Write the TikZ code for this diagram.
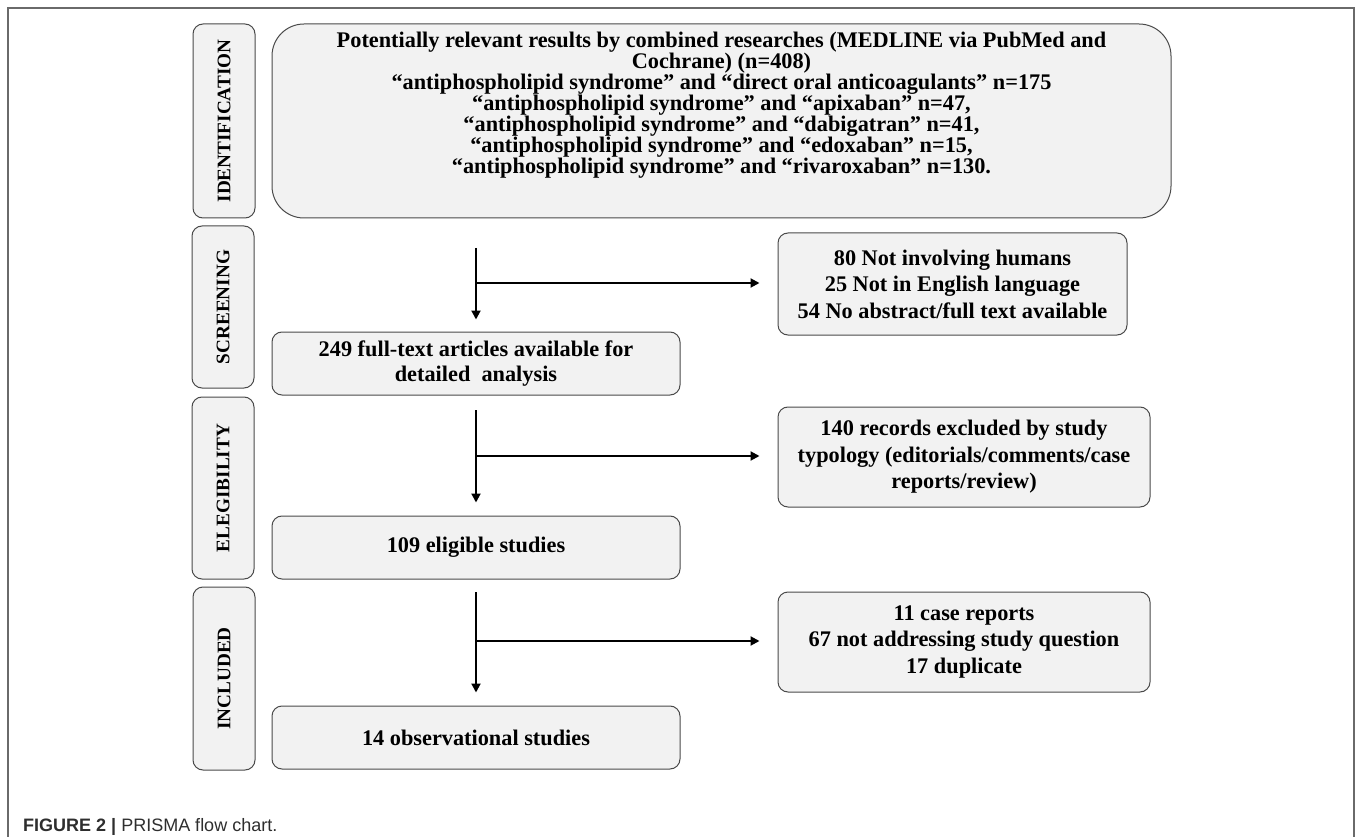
\documentclass[tikz,border=0pt]{standalone}
\usepackage{fontspec}
\setmainfont{Liberation Serif}
\newfontfamily\capfont{Liberation Sans}
\usetikzlibrary{arrows.meta}
\definecolor{boxfill}{HTML}{F2F2F2}
\definecolor{boxline}{HTML}{4A4A4A}
\definecolor{framecol}{HTML}{6A6A6A}
\definecolor{captxt}{HTML}{2E2E2E}
\begin{document}
\begin{tikzpicture}[x=1pt,y=-1pt,
  box/.style={draw=boxline, fill=boxfill, line width=1pt, rounded corners=10pt,
    inner sep=0pt, align=center, text=black, font=\bfseries\fontsize{22.3}{26.5}\selectfont},
  lbl/.style={box, rotate=90, font=\bfseries\fontsize{19.2}{21}\selectfont},
  arr/.style={line width=2pt, -{Triangle[length=9pt,width=9pt]}},
  ln/.style={line width=2pt}
]
\useasboundingbox (0,0) rectangle (1358,837);
\draw[framecol, line width=1.5pt] (8,837) -- (8,8) -- (1354,8) -- (1354,837);

% stage labels
\node[lbl, minimum width=194pt, minimum height=62pt] (lid) at (224,121) {IDENTIFICATION};
\node[lbl, minimum width=162pt, minimum height=62pt] (lsc) at (223,307) {SCREENING};
\node[lbl, minimum width=182pt, minimum height=62pt] (lel) at (223,488) {ELEGIBILITY};
\node[lbl, minimum width=183pt, minimum height=62pt] (lin) at (224,678.5) {INCLUDED};

% main boxes
\node[box, rounded corners=32pt, minimum width=899pt, minimum height=194pt] (top) at (721.5,121) {};
\node[inner sep=0pt, align=center, font=\bfseries\fontsize{22.3}{21}\selectfont, anchor=base] (toptext) at (721.5,173.5)
  {Potentially relevant results by combined researches (MEDLINE via PubMed and\\
   Cochrane) (n=408)\\
   “antiphospholipid syndrome” and “direct oral anticoagulants” n=175\\
   “antiphospholipid syndrome” and “apixaban” n=47,\\
   “antiphospholipid syndrome” and “dabigatran” n=41,\\
   “antiphospholipid syndrome” and “edoxaban” n=15,\\
   “antiphospholipid syndrome” and “rivaroxaban” n=130.};

\node[box, minimum width=408pt, minimum height=63pt, font=\bfseries\fontsize{22.3}{25}\selectfont] (b249) at (476,363.5)
  {249 full-text articles available for\\ detailed\ \ analysis};
\node[box, minimum width=408pt, minimum height=63pt] (b109) at (476,547.5) {109 eligible studies};
\node[box, minimum width=408pt, minimum height=63pt] (b14) at (476,737.5) {14 observational studies};

% exclusion boxes
\node[box, minimum width=349pt, minimum height=102pt] (e1) at (952.5,284)
  {80 Not involving humans\\ 25 Not in English language\\ 54 No abstract/full text available};
\node[box, minimum width=372pt, minimum height=100pt] (e2) at (964,457)
  {140 records excluded by study\\ typology (editorials/comments/case\\ reports/review)};
\node[box, minimum width=372pt, minimum height=100pt] (e3) at (964,642)
  {11 case reports\\ 67 not addressing study question\\ 17 duplicate};

% connectors
\coordinate (s1) at (476,248);
\coordinate (j1) at (476,283);
\coordinate (s2) at (476,410);
\coordinate (j2) at (476,456);
\coordinate (s3) at (476,592);
\coordinate (j3) at (476,641);

\draw[arr, shorten >=12pt] (s1) -- (b249.north);
\draw[arr, shorten >=18pt] (j1) -- (j1 -| e1.west);
\draw[arr, shorten >=13pt] (s2) -- (b109.north);
\draw[arr, shorten >=18pt] (j2) -- (j2 -| e2.west);
\draw[arr, shorten >=13pt] (s3) -- (b14.north);
\draw[arr, shorten >=18pt] (j3) -- (j3 -| e3.west);

% caption
\node[anchor=base west, inner sep=0pt, text=captxt, font=\capfont\fontsize{18}{22}\selectfont] (cap) at (23,831)
  {{\bfseries FIGURE 2 |} PRISMA flow chart.};
\end{tikzpicture}
\end{document}
